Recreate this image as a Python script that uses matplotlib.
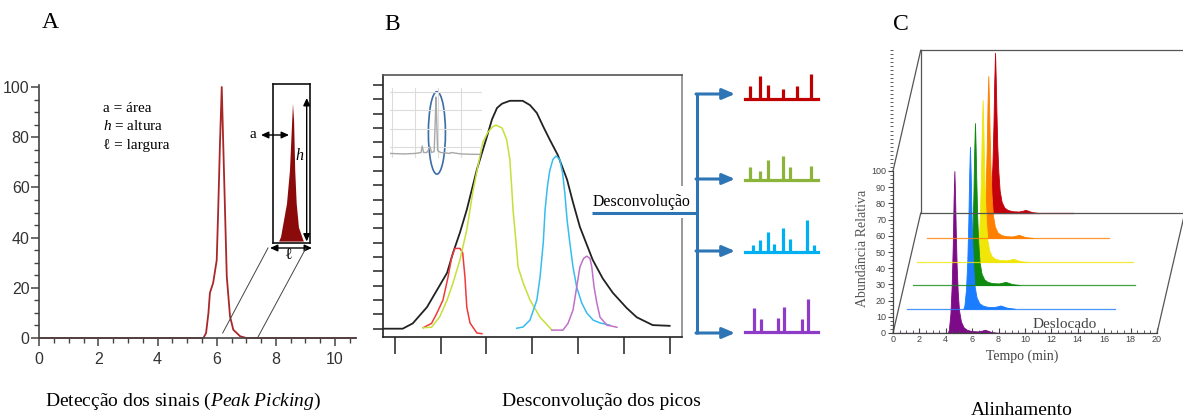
import matplotlib
matplotlib.use("Agg")
import matplotlib.pyplot as plt
from matplotlib.lines import Line2D
from matplotlib.patches import Ellipse, FancyArrowPatch
from matplotlib.ticker import MultipleLocator

plt.rcParams["font.family"] = ["Liberation Sans", "DejaVu Sans"]
plt.rcParams["mathtext.fontset"] = "custom"
plt.rcParams["mathtext.it"] = "Liberation Serif:italic"
plt.rcParams["mathtext.rm"] = "Liberation Serif"
SERIF = ["Liberation Serif", "DejaVu Serif"]

# ---------------- Panel A: single chromatographic peak ----------------
a_time = [0.0, 5.55, 5.64, 5.72, 5.77, 5.88, 6.0, 6.05, 6.11, 6.17, 6.22, 6.28,
          6.34, 6.45, 6.56, 6.79, 7.0, 10.7]
a_abund = [0, 0, 2, 10, 18, 22, 31, 51, 77.5, 100, 77.5, 51, 24.5, 8.6, 3.3,
           0.7, 0, 0]
# zoomed peak drawn in the inset box (relative units)
zoom_pos = [0.16, 0.21, 0.29, 0.37, 0.45, 0.53, 0.56, 0.59, 0.63, 0.69, 0.82]
zoom_height = [0.013, 0.04, 0.145, 0.25, 0.46, 0.88, 0.77, 0.46, 0.25, 0.10, 0.013]
legend_lines = ["a = área", r"$\mathit{h}$ = altura", "ℓ = largura"]

# ---------------- Panel B: co-eluting peaks and their components ----------------
env_time = [-0.26, 0.17, 0.39, 0.70, 0.92, 1.14, 1.27, 1.42, 1.57, 1.79, 2.01,
            2.12, 2.23, 2.34, 2.51, 2.79, 2.95, 3.10, 3.24, 3.38, 3.56, 3.76,
            3.89, 4.04, 4.32, 4.54, 4.76, 5.06, 5.28, 5.63, 6.0]
env_signal = [0, 0, 0.37, 1.5, 2.7, 3.9, 5.3, 6.7, 8.3, 11.1, 13.4, 14.6, 15.4,
              15.7, 15.9, 15.9, 15.6, 15.05, 14.1, 13.2, 12.1, 10.4, 8.8, 7.1,
              4.8, 3.5, 2.5, 1.45, 0.8, 0.25, 0.2]

red_time = [0.62, 0.8, 0.92, 1.05, 1.16, 1.24, 1.31, 1.42, 1.48, 1.53, 1.57,
            1.64, 1.79, 1.9]
red_signal = [0.07, 0.37, 1.1, 2.0, 3.6, 5.0, 5.6, 5.6, 5.3, 3.6, 1.5, 0.4,
              -0.3, -0.35]

lime_time = [0.62, 0.8, 0.98, 1.14, 1.27, 1.42, 1.57, 1.70, 1.81, 1.92, 2.03,
             2.14, 2.21, 2.34, 2.44, 2.51, 2.55, 2.58, 2.64, 2.69, 2.80, 2.95,
             3.17, 3.43]
lime_signal = [0.07, 0.1, 0.84, 2.0, 3.2, 4.8, 6.9, 9.5, 11.3, 13.0, 13.7, 14.1,
               14.2, 14.0, 13.2, 11.8, 9.9, 8.3, 6.2, 4.3, 3.2, 2.0, 0.8, -0.1]

sky_time = [2.66, 2.80, 2.95, 3.10, 3.17, 3.24, 3.28, 3.33, 3.38, 3.45, 3.52,
            3.60, 3.66, 3.71, 3.76, 3.82, 3.89, 3.97, 4.08, 4.19, 4.33, 4.48, 4.69]
sky_signal = [0.03, 0.12, 0.6, 2.0, 3.6, 6.0, 8.3, 9.9, 11.0, 11.8, 12.05, 11.8,
              10.9, 9.5, 7.6, 6.0, 4.3, 2.9, 1.8, 1.1, 0.6, 0.4, 0.25]

orchid_time = [3.43, 3.67, 3.78, 3.89, 3.97, 4.04, 4.12, 4.19, 4.26, 4.30, 4.35,
               4.41, 4.48, 4.63, 4.85]
orchid_signal = [-0.1, -0.1, 0.37, 1.3, 2.9, 4.3, 4.9, 5.06, 4.9, 4.3, 2.9, 1.8,
                 0.8, 0.25, 0.1]

# thumbnail chromatogram with the highlighted peak
thumb_time = [-0.1, 0.5, 1.0, 1.25, 1.3, 1.36, 1.5, 1.6, 1.65, 1.7, 1.82, 1.87,
              1.9, 1.93, 1.97, 2.1, 2.5, 2.55, 3.0, 3.5, 3.85]
thumb_signal = [-0.35, -0.38, -0.35, -0.3, 0.05, -0.3, -0.3, -0.1, 0.0, -0.3,
                -0.25, 1.5, 2.73, 1.5, -0.2, -0.3, -0.35, -0.3, -0.38, -0.4, -0.4]

# deconvoluted mass spectra (relative m/z position, relative intensity)
spec_mz = [
    [6.8, 20.5, 31.5, 52.0, 71.0, 90.4],
    [6.8, 20.5, 32.0, 51.6, 61.6, 90.0],
    [10.5, 20.5, 32.0, 40.0, 51.6, 61.6, 84.5, 94.5],
    [12.8, 21.5, 44.8, 53.9, 77.6, 85.9],
]
spec_int = [
    [38, 71, 43, 30, 38, 77],
    [38, 27, 61, 73, 38, 42],
    [22, 35, 61, 24, 73, 39, 98, 21],
    [74, 38, 42, 75, 38, 99],
]
spec_colors = ["#c00000", "#8cb33a", "#00b0f0", "#8e3cc8"]

# ---------------- Panel C: stacked chromatograms before alignment ----------------
c_colors = ["#7d0a87", "#1a7cff", "#0f8a0f", "#f0e60a", "#ff8000", "#c4000c"]
c_level = [0, 15, 29.6, 43.8, 58.6, 74]
c_apex = [4.65, 5.83, 6.21, 6.79, 7.22, 7.73]
c_height = [100, 100, 100, 100, 100, 99]
c_start = [0.3, 1.04, 1.49, 1.84, 2.6, 7.2]
c_end = [15.5, 16.8, 18.3, 18.2, 16.4, 13.66]
# shared peak profile: offset from apex (min) and fraction of apex height
prof_dt = [-0.5, -0.42, -0.3, -0.2, -0.12, -0.06, 0, 0.05, 0.1, 0.17, 0.25, 0.35,
           0.5, 0.7, 0.95, 1.3, 1.8, 2.1, 2.3, 2.5, 2.8, 3.4]
prof_fr = [0, 0.02, 0.12, 0.3, 0.55, 0.82, 1.0, 0.85, 0.65, 0.42, 0.26, 0.14,
           0.07, 0.035, 0.02, 0.012, 0.01, 0.015, 0.02, 0.015, 0.006, 0]

# ---------------- layout helpers (pixel coordinates) ----------------
W, H = 1183, 418
fig = plt.figure(figsize=(W / 100, H / 100), dpi=100)


def fx(x):
    return x / W


def fy(y):
    return 1 - y / H


def add_ax(left, top, right, bottom):
    return fig.add_axes([left / W, 1 - bottom / H, (right - left) / W, (bottom - top) / H])


def fline(x1, y1, x2, y2, **kw):
    fig.add_artist(Line2D([fx(x1), fx(x2)], [fy(y1), fy(y2)],
                          transform=fig.transFigure, **kw))


def farrow(x1, y1, x2, y2, style, scale, **kw):
    fig.add_artist(FancyArrowPatch((fx(x1), fy(y1)), (fx(x2), fy(y2)),
                                   transform=fig.transFigure, arrowstyle=style,
                                   mutation_scale=scale, shrinkA=0, shrinkB=0, **kw))


def ftext(x, y, s, **kw):
    fig.text(fx(x), fy(y), s, **kw)


# ---------------- Panel A ----------------
axA = add_ax(39.3, 84.5, 355.7, 338)
axA.plot(a_time, a_abund, color="#a82828", lw=1.3, clip_on=False)
axA.set_xlim(0, 10.7)
axA.set_ylim(0, 101)
for s in ("top", "right"):
    axA.spines[s].set_visible(False)
for s in ("left", "bottom"):
    axA.spines[s].set_color("#444")
    axA.spines[s].set_linewidth(1.2)
axA.xaxis.set_major_locator(MultipleLocator(2))
axA.xaxis.set_minor_locator(MultipleLocator(0.5))
axA.yaxis.set_major_locator(MultipleLocator(20))
axA.yaxis.set_minor_locator(MultipleLocator(5))
axA.tick_params(which="major", length=6, width=1.1, color="#444",
                labelsize=11.5, labelcolor="#333")
axA.tick_params(which="minor", length=3.5, width=1, color="#444")
axA.tick_params(axis="y", pad=1)
axA.tick_params(axis="x", pad=4)

for i, line in enumerate(legend_lines):
    ftext(103, 108 + 18.5 * i, line, family=SERIF, fontsize=11, va="center")

axI = add_ax(272.7, 84, 310, 243)
axI.fill_between(zoom_pos, 0.012, zoom_height, color="#8b0a0a", lw=0)
axI.set_xlim(0, 1)
axI.set_ylim(0, 1)
axI.set_xticks([])
axI.set_yticks([])
for s in axI.spines.values():
    s.set_color("#111")
    s.set_linewidth(1.2)

ahead = "<|-|>,head_length=0.55,head_width=0.25"
farrow(306.7, 98, 306.7, 241.5, ahead, 8, color="black", lw=1)
farrow(261, 135, 289, 135, ahead, 8, color="black", lw=1)
farrow(270, 248, 312, 248, ahead, 8, color="black", lw=1)
ftext(253, 134, "a", family=SERIF, fontsize=11, ha="center", va="center")
ftext(300, 155, r"$\mathit{h}$", fontsize=11.5, ha="center", va="center")
ftext(288, 255, "ℓ", family=SERIF, fontsize=11.5, ha="center", va="center")
fline(222.7, 333, 268, 248, color="#444", lw=0.7)
fline(258, 337, 306, 248, color="#444", lw=0.7)

# ---------------- Panel B ----------------
axB = add_ax(383, 75, 682, 337)
axB.plot(env_time, env_signal, color="#222", lw=1.3)
axB.plot(red_time, red_signal, color="#f03a3a", lw=1.1)
axB.plot(lime_time, lime_signal, color="#c5e03a", lw=1.1)
axB.plot(sky_time, sky_signal, color="#38bcf0", lw=1.1)
axB.plot(orchid_time, orchid_signal, color="#c070c8", lw=1.1)
axB.set_xlim(-0.26, 6.27)
axB.set_ylim(-0.58, 17.7)
axB.set_xticks(range(7))
axB.set_yticks(range(18))
axB.tick_params(axis="x", length=12, width=1.1, color="#222", labelbottom=False)
axB.tick_params(axis="y", length=7, width=1.1, color="#222", labelleft=False)
axB.spines["left"].set_color("#222")
axB.spines["bottom"].set_color("#222")
axB.spines["top"].set_color("#555")
axB.spines["right"].set_color("#888")
for s in axB.spines.values():
    s.set_linewidth(1.2)

axT = add_ax(390, 88, 482, 158)
axT.plot(thumb_time, thumb_signal, color="#a8a8a8", lw=1)
axT.set_xlim(-0.1, 3.9)
axT.set_ylim(-0.6, 3.22)
axT.set_xticks(range(4))
axT.set_yticks(range(4))
axT.grid(True, color="#dcdcdc", lw=0.8)
axT.tick_params(length=0, labelbottom=False, labelleft=False)
axT.patch.set_alpha(0)
for s in axT.spines.values():
    s.set_visible(False)
apex_i = thumb_signal.index(max(thumb_signal))
axT.add_patch(Ellipse((thumb_time[apex_i] + 0.04, 0.77), 0.74, 4.5, fill=False,
                      ec="#3a6ea5", lw=1.2, clip_on=False))

ftext(593, 202, "Desconvolução", family=SERIF, fontsize=11.4, va="center",
      bbox=dict(fc="white", ec="none", pad=6), zorder=3)

tree_c = "#2e75b6"
fline(592, 213, 697, 213, color=tree_c, lw=2.2, zorder=5, solid_capstyle="butt")
fline(697, 93, 697, 334, color=tree_c, lw=2.2, zorder=5, solid_capstyle="butt")
spec_base = [99, 180, 252, 332]
branch_y = [94, 179, 251, 333]
for yb in branch_y:
    farrow(696, yb, 735, yb, "-|>,head_length=0.75,head_width=0.32", 10,
           color=tree_c, lw=2.2, zorder=5)

for mz, inten, col, yb in zip(spec_mz, spec_int, spec_colors, spec_base):
    ax = add_ax(745, yb - 33, 818, yb)
    ax.vlines(mz, 0, inten, color=col, lw=2.3)
    ax.axhline(0, color=col, lw=2.3, clip_on=False)
    ax.set_xlim(0, 100)
    ax.set_ylim(0, 100)
    ax.axis("off")

# ---------------- Panel C ----------------
axC = add_ax(893, 49.5, 1157, 333)
axC.set_xlim(0, 20)
axC.set_ylim(0, 175)
order = list(range(len(c_colors)))[::-1]
for k in order:
    base = c_level[k]
    xs = [c_apex[k] + d for d in prof_dt]
    ys = [base + f * c_height[k] for f in prof_fr]
    axC.plot([c_start[k], c_end[k]], [base, base], color=c_colors[k], lw=0.9,
             alpha=0.8)
    axC.fill_between(xs, base, ys, color=c_colors[k], lw=0.6, ec=c_colors[k])

depth_dx, depth_dy = 2.1, 74
frame_kw = dict(color="#555", lw=0.9, clip_on=False)
axC.plot([0, depth_dx], [100, 100 + depth_dy + 0.5], **frame_kw)
axC.plot([0, depth_dx], [0, depth_dy], **frame_kw)
axC.plot([depth_dx, depth_dx], [depth_dy, 100 + depth_dy + 0.5], **frame_kw)
axC.plot([depth_dx, 23], [100 + depth_dy + 0.5] * 2, **frame_kw)
axC.plot([depth_dx, 23], [depth_dy, depth_dy], **frame_kw)
axC.plot([20, 20 + depth_dx], [0, depth_dy], **frame_kw)

for s in ("top", "right"):
    axC.spines[s].set_visible(False)
axC.spines["left"].set_bounds(0, 100)
axC.spines["bottom"].set_bounds(0, 20)
for s in ("left", "bottom"):
    axC.spines[s].set_color("#444")
    axC.spines[s].set_linewidth(0.9)
axC.xaxis.set_major_locator(MultipleLocator(2))
axC.xaxis.set_minor_locator(MultipleLocator(0.5))
axC.set_yticks(range(0, 101, 10))
axC.yaxis.set_minor_locator(MultipleLocator(2.5))
axC.tick_params(which="major", length=3.5, width=0.8, color="#444",
                labelsize=6.5, labelcolor="#444", pad=1.5)
axC.tick_params(which="minor", length=2, width=0.6, color="#444")
axC.tick_params(axis="x", which="both", direction="in")
axC.set_ylim(0, 175)

ftext(863, 248, "Abundância Relativa", family=SERIF, fontsize=10, color="#555",
      rotation=90, ha="center", va="center")
ftext(1022, 356, "Tempo (min)", family=SERIF, fontsize=10, color="#444",
      ha="center", va="center")
ftext(1065, 325, "Deslocado", family=SERIF, fontsize=11, color="#444",
      ha="center", va="center")

# ---------------- panel letters and captions ----------------
ftext(50, 28, "A", family=SERIF, fontsize=17, ha="center", va="baseline")
ftext(392, 30, "B", family=SERIF, fontsize=17, ha="center", va="baseline")
ftext(901, 30, "C", family=SERIF, fontsize=17, ha="center", va="baseline")
ftext(183, 406, r"Detecção dos sinais ($\mathit{Peak\ Picking)}$", family=SERIF,
      fontsize=14, ha="center", va="baseline")
ftext(601, 406, "Desconvolução dos picos", family=SERIF, fontsize=14,
      ha="center", va="baseline")
ftext(1022, 415, "Alinhamento", family=SERIF, fontsize=14, ha="center",
      va="baseline")

fig.savefig("out.png", dpi=100)
